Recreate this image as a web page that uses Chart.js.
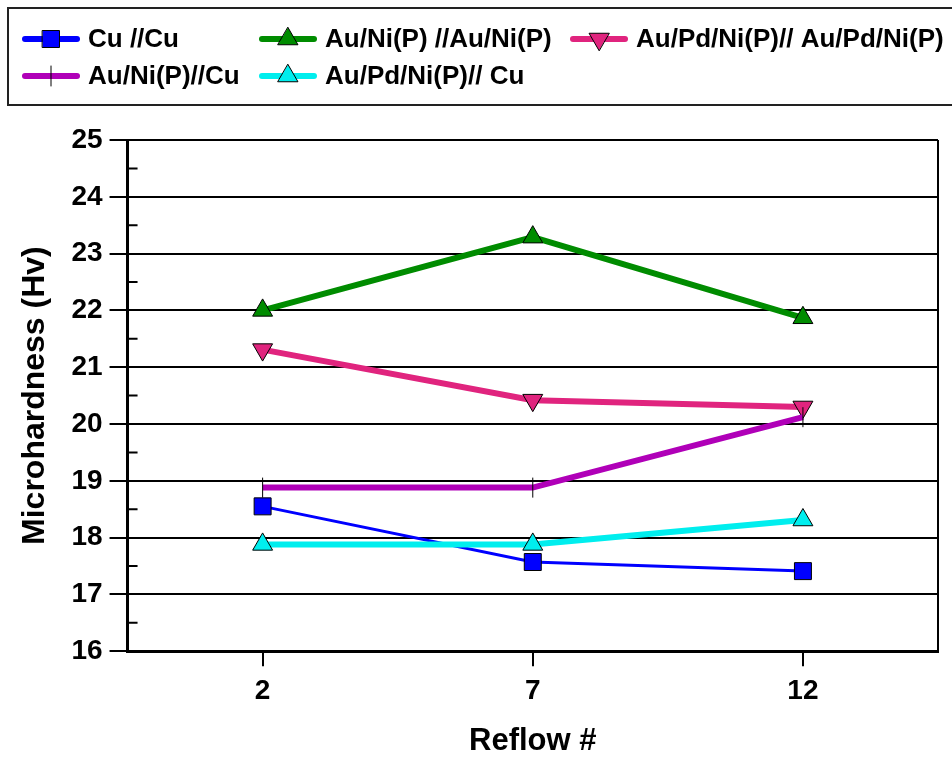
<!DOCTYPE html>
<html>
<head>
<meta charset="utf-8">
<script src="https://cdn.jsdelivr.net/npm/chart.js@4.4.0/dist/chart.umd.min.js"></script>
<style>
  body { margin: 0; background: #fff; }
  #wrap { width: 952px; height: 764px; position: relative; }
</style>
</head>
<body>
<div id="wrap"><canvas id="myChart"></canvas></div>
<script>
// reflow counts on the x axis
const reflows = ['2', '7', '12'];

// microhardness (Hv) per joint type
const cuCu = [18.55, 17.57, 17.41];
const auNiAuNi = [22.0, 23.29, 21.87];
const auPdAuPd = [21.31, 20.42, 20.3];
const auNiCu = [18.88, 18.88, 20.12];
const auPdCu = [17.88, 17.88, 18.31];

const seriesNames = ['Cu //Cu', 'Au/Ni(P) //Au/Ni(P)', 'Au/Pd/Ni(P)// Au/Pd/Ni(P)', 'Au/Ni(P)//Cu', 'Au/Pd/Ni(P)// Cu'];

Chart.defaults.font.family = "'Liberation Sans', Arial, sans-serif";
Chart.defaults.font.weight = 'bold';
Chart.defaults.color = '#000';

// legend slots: [line start x, row y]
const legendSlots = [[25, 39], [262, 39], [573, 39], [25, 76], [262, 76]];

const boxLegend = {
  id: 'boxLegend',
  afterDraw(chart) {
    const ctx = chart.ctx;
    ctx.save();
    ctx.strokeStyle = '#222';
    ctx.lineWidth = 2;
    ctx.strokeRect(8, 8, 950, 97);
    ctx.font = "bold 26px 'Liberation Sans', Arial, sans-serif";
    ctx.textBaseline = 'middle';
    ctx.fillStyle = '#000';
    chart.data.datasets.forEach((ds, i) => {
      const [x, y] = legendSlots[i];
      ctx.strokeStyle = ds.borderColor;
      ctx.lineWidth = 6;
      ctx.lineCap = 'round';
      ctx.beginPath();
      ctx.moveTo(x, y);
      ctx.lineTo(x + 52, y);
      ctx.stroke();
      ctx.fillStyle = ds.pointBackgroundColor;
      ctx.strokeStyle = ds.pointBorderColor;
      ctx.lineWidth = ds.pointBorderWidth;
      Chart.helpers.drawPoint(ctx, {
        pointStyle: ds.pointStyle,
        rotation: ds.pointRotation,
        radius: ds.pointRadius,
        borderWidth: ds.pointBorderWidth
      }, x + 26, y);
      ctx.fillStyle = '#000';
      ctx.fillText(ds.label, x + 63, y + 1);
    });
    ctx.restore();
  }
};

const frame = {
  id: 'frame',
  afterDraw(chart) {
    const ctx = chart.ctx;
    const a = chart.chartArea;
    const y = chart.scales.y;
    ctx.save();
    ctx.strokeStyle = '#000';
    ctx.lineWidth = 2;
    ctx.beginPath();
    ctx.moveTo(a.right, a.top);
    ctx.lineTo(a.right, a.bottom);
    // minor ticks inside the y axis
    for (let v = y.min + 0.5; v < y.max; v += 1) {
      const py = y.getPixelForValue(v);
      ctx.moveTo(a.left, py);
      ctx.lineTo(a.left + 10, py);
    }
    ctx.stroke();
    ctx.restore();
  }
};

function series(label, data, color, width, style, rot, r, order) {
  return {
    label: label,
    data: data,
    borderColor: color,
    borderWidth: width,
    backgroundColor: color,
    pointBackgroundColor: color,
    pointBorderColor: '#000',
    pointBorderWidth: 1,
    pointStyle: style,
    pointRotation: rot,
    pointRadius: r,
    pointHoverRadius: r,
    tension: 0,
    order: order
  };
}

const ctx = document.getElementById('myChart');
new Chart(ctx, {
  type: 'line',
  data: {
    labels: reflows,
    datasets: [
      series(seriesNames[0], cuCu, '#0000ff', 3, 'rect', 0, 12, 5),
      series(seriesNames[1], auNiAuNi, '#008c00', 6, 'triangle', 0, 11.5, 4),
      series(seriesNames[2], auPdAuPd, '#e0247e', 6, 'triangle', 180, 11.5, 3),
      series(seriesNames[3], auNiCu, '#b000b8', 6, 'line', 90, 10, 2),
      series(seriesNames[4], auPdCu, '#00eeee', 6, 'triangle', 0, 11.5, 1)
    ]
  },
  options: {
    responsive: true,
    maintainAspectRatio: false,
    animation: false,
    layout: { padding: { top: 140, right: 14, left: 12, bottom: 0 } },
    plugins: {
      legend: { display: false },
      tooltip: { enabled: false }
    },
    scales: {
      x: {
        type: 'category',
        offset: true,
        grid: { drawOnChartArea: false, drawTicks: true, tickLength: 15, color: '#000', lineWidth: 2 },
        border: { color: '#000', width: 3 },
        ticks: { font: { size: 28, weight: 'bold' }, color: '#000', padding: 8 },
        title: { display: true, text: 'Reflow #', font: { size: 31, weight: 'bold' }, color: '#000', padding: { top: 7 } }
      },
      y: {
        min: 16,
        max: 25,
        ticks: { stepSize: 1, font: { size: 28, weight: 'bold' }, color: '#000', padding: 7 },
        grid: { color: '#000', lineWidth: 2, tickLength: 18 },
        border: { color: '#000', width: 3 },
        title: { display: true, text: 'Microhardness (Hv)', font: { size: 32, weight: 'bold' }, color: '#000', padding: { bottom: 10 } }
      }
    }
  },
  plugins: [boxLegend, frame]
});
</script>
</body>
</html>
